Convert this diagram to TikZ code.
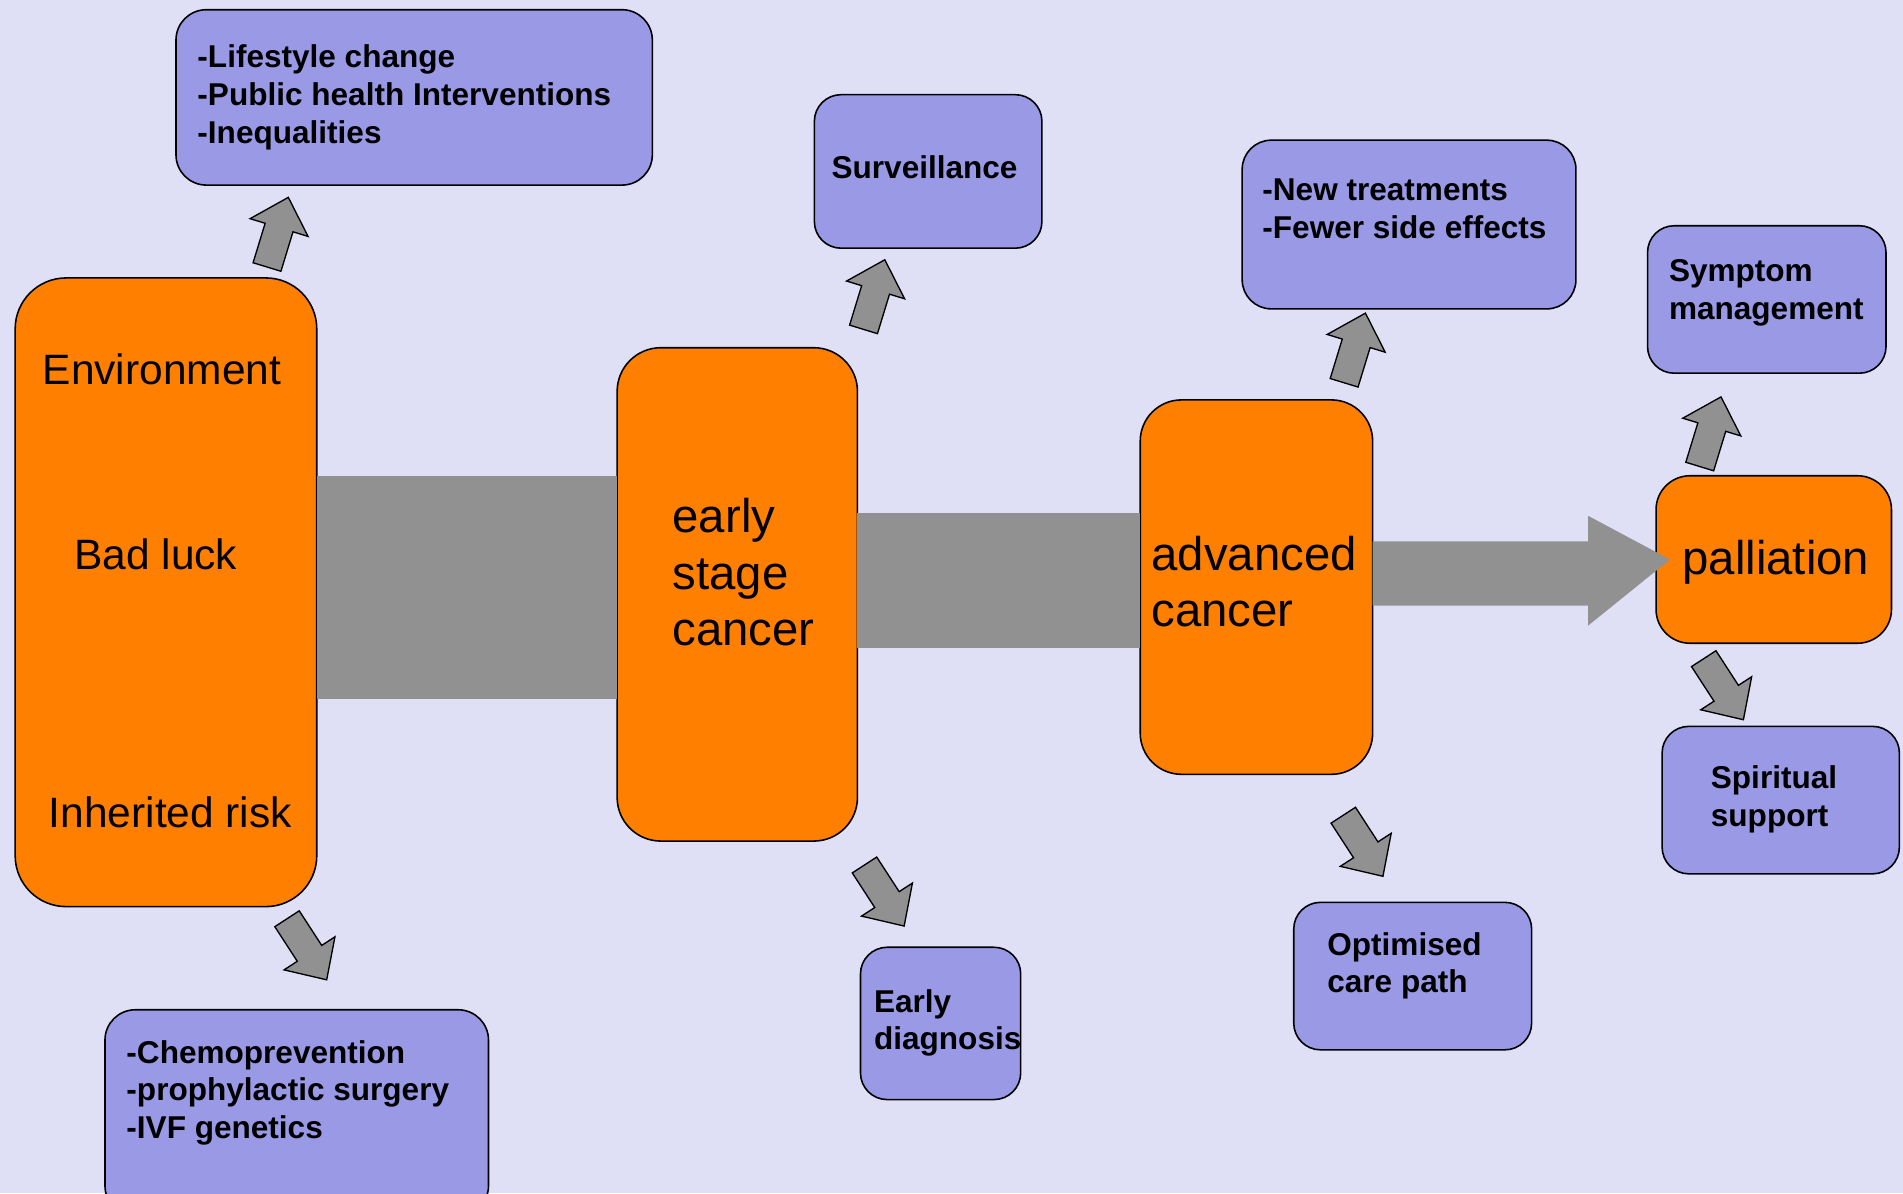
\documentclass[tikz,border=0pt]{standalone}
\usepackage{fontspec}
\setmainfont{Liberation Sans}
\definecolor{bgc}{RGB}{223,223,246}
\definecolor{orangec}{RGB}{255,127,0}
\definecolor{bluec}{RGB}{153,153,230}
\definecolor{grayc}{RGB}{145,145,145}
\newcommand\smallarrow[3]{%
  \draw[sarrow, shift={(#1,#2)}, rotate=#3]
    (-12,0) -- (12,0) -- (12,-34) -- (25,-34) -- (0,-60) -- (-25,-34) -- (-12,-34) -- cycle;}
\begin{document}
\begin{tikzpicture}[x=1pt,y=-1pt,
  box/.style={draw=black, line width=1.3pt, inner sep=0pt, outer sep=0pt},
  orangebox/.style={box, fill=orangec},
  bluebox/.style={box, fill=bluec},
  btxt/.style={font=\fontsize{26}{31}\selectfont\bfseries, inner sep=0pt, anchor=base west},
  otxt/.style={font=\fontsize{39}{46}\selectfont, inner sep=0pt, anchor=base west},
  etxt/.style={font=\fontsize{35}{42}\selectfont, inner sep=0pt, anchor=base west},
  bar/.style={fill=grayc},
  sarrow/.style={fill=grayc, draw=black, line width=1.1pt, line join=miter}]
\useasboundingbox (0,0) rectangle (1568,983);
\clip (0,0) rectangle (1568,983);
\fill[bgc] (0,0) rectangle (1568,983);

% main orange boxes
\node[orangebox, rounded corners=42pt, minimum width=248.5pt, minimum height=518pt] (env) at (136.75,488) {};
\node[orangebox, rounded corners=36pt, minimum width=198pt, minimum height=406.5pt] (early) at (607.5,489.75) {};
\node[orangebox, rounded corners=34pt, minimum width=191.5pt, minimum height=308.5pt] (adv) at (1035.25,483.75) {};
\node[orangebox, rounded corners=28pt, minimum width=194pt, minimum height=138pt] (pal) at (1461.5,461) {};

% gray connectors
\fill[bar] (env.east |- 0,392) rectangle (early.west |- 0,576);
\fill[bar] (early.east |- 0,423) rectangle (adv.west |- 0,534);
\fill[bar] (adv.east |- 0,446) -- (1308.5,446) -- (1308.5,425) -- ([xshift=11.5pt]pal.west) -- (1308.5,515.5) -- (1308.5,499) -- (adv.east |- 0,499) -- cycle;

% blue boxes
\node[bluebox, rounded corners=25pt, minimum width=392.5pt, minimum height=144.5pt] (life) at (341.25,80.25) {};
\node[bluebox, rounded corners=22pt, minimum width=187.5pt, minimum height=126.5pt] (surv) at (764.75,141.25) {};
\node[bluebox, rounded corners=24pt, minimum width=275pt, minimum height=139pt] (newt) at (1161,185) {};
\node[bluebox, rounded corners=22pt, minimum width=196.5pt, minimum height=121.5pt] (symp) at (1455.75,246.75) {};
\node[bluebox, rounded corners=22pt, minimum width=195.5pt, minimum height=121.5pt] (spir) at (1467.25,659.25) {};
\node[bluebox, rounded corners=22pt, minimum width=196pt, minimum height=121.5pt] (opt) at (1164,804.25) {};
\node[bluebox, rounded corners=22pt, minimum width=132pt, minimum height=125.5pt] (ediag) at (775,843.25) {};
\node[bluebox, rounded corners=25pt, minimum width=316pt, minimum height=170pt] (chemo) at (244.5,917) {};

% orange texts
\node[etxt] (envt1) at (35,316.5) {Environment};
\node[etxt] (envt2) at (61,469) {Bad luck};
\node[etxt] (envt3) at (40,682) {Inherited risk};
\node[otxt] (earlyt1) at (554,439) {early};
\node[otxt] (earlyt2) at (554,485.5) {stage};
\node[otxt] (earlyt3) at (554,532) {cancer};
\node[otxt] (advt1) at (948.5,470) {advanced};
\node[otxt] (advt2) at (948.5,516) {cancer};
\node[otxt] (palt) at (1386,473) {palliation};

% blue texts
\node[btxt] (lifet1) at (162.5,56) {-Lifestyle change};
\node[btxt] (lifet2) at (162.5,87) {-Public health Interventions};
\node[btxt] (lifet3) at (162.5,118) {-Inequalities};
\node[btxt] (survt) at (685,147) {Surveillance};
\node[btxt] (newtt1) at (1040,165.5) {-New treatments};
\node[btxt] (newtt2) at (1040,196.5) {-Fewer side effects};
\node[btxt] (sympt1) at (1375,232) {Symptom};
\node[btxt] (sympt2) at (1375,263) {management};
\node[btxt] (spirt1) at (1409.5,650) {Spiritual};
\node[btxt] (spirt2) at (1409.5,681) {support};
\node[btxt] (optt1) at (1093.5,787) {Optimised};
\node[btxt] (optt2) at (1093.5,818) {care path};
\node[btxt] (ediagt1) at (720,834) {Early};
\node[btxt] (ediagt2) at (720,865) {diagnosis};
\node[btxt] (chemot1) at (104,876) {-Chemoprevention};
\node[btxt] (chemot2) at (104,907) {-prophylactic surgery};
\node[btxt] (chemot3) at (104,938) {-IVF genetics};

% small block arrows
\smallarrow{220}{220}{-17}
\smallarrow{711.5}{271.4}{-17}
\smallarrow{1107.5}{315.4}{-17}
\smallarrow{1400.5}{384.4}{-17}
\smallarrow{236.5}{757}{-147}
\smallarrow{712.3}{712.7}{-147}
\smallarrow{1106.8}{671.7}{-147}
\smallarrow{1403.8}{542.7}{-147}
\end{tikzpicture}
\end{document}
